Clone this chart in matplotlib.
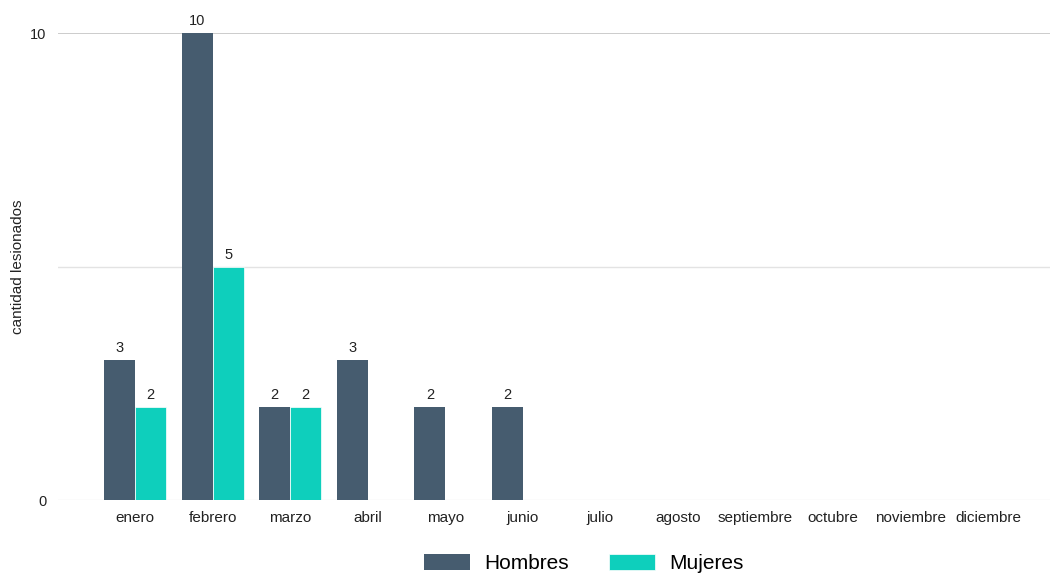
import numpy as np
import matplotlib.pyplot as plt

plt.rcParams['font.family'] = ['Liberation Sans', 'DejaVu Sans']

meses = ['enero', 'febrero', 'marzo', 'abril', 'mayo', 'junio', 'julio',
         'agosto', 'septiembre', 'octubre', 'noviembre', 'diciembre']
hombres = [3, 10, 2, 3, 2, 2, 0, 0, 0, 0, 0, 0]
mujeres = [2, 5, 2, 0, 0, 0, 0, 0, 0, 0, 0, 0]

c_h = '#465c6f'
c_m = '#0ecfbc'

fig = plt.figure(figsize=(10.5, 5.75), dpi=100)
ax = fig.add_axes([0.055, 0.1304, 0.945, 0.8122])

x = np.arange(len(meses))
w = 0.4
b1 = ax.bar(x - w / 2, hombres, w, color=c_h, label='Hombres', zorder=3)
b2 = ax.bar(x + w / 2, mujeres, w, color=c_m, label='Mujeres', zorder=3,
            edgecolor='white', linewidth=0.5)

for bars, vals in ((b1, hombres), (b2, mujeres)):
    for r, v in zip(bars, vals):
        if v > 0:
            ax.text(r.get_x() + r.get_width() / 2, v + 0.1, str(v),
                    ha='center', va='bottom', fontsize=10.5, color='#222222')

ax.set_xlim(-1, 11.8)
ax.set_ylim(0, 10)
ax.set_yticks([0, 10])
ax.set_yticks([5], minor=True)
ax.set_xticks(x)
ax.set_xticklabels(meses, fontsize=11, color='#222222')
ax.tick_params(axis='y', which='both', length=0, labelsize=10.5, labelcolor='#222222', pad=8)
ax.tick_params(axis='x', length=0, pad=8)

ax.axhline(10, color='#c4c4c4', lw=1.2, zorder=1)
ax.axhline(5, color='#e3e3e3', lw=1, zorder=1)
ax.axhline(0, color='#ececec', lw=1, zorder=1)
for s in ax.spines.values():
    s.set_visible(False)

ax.set_ylabel('cantidad lesionados', fontsize=11, color='#222222')
ax.yaxis.set_label_coords(-0.033, 0.5)

fig.legend(handles=[b1, b2], loc='lower center', bbox_to_anchor=(0.556, -0.029),
           ncol=2, frameon=False, fontsize=15, handlelength=2.2,
           handleheight=0.8, columnspacing=1.9, handletextpad=0.7)

fig.savefig('out.png', dpi=100)
